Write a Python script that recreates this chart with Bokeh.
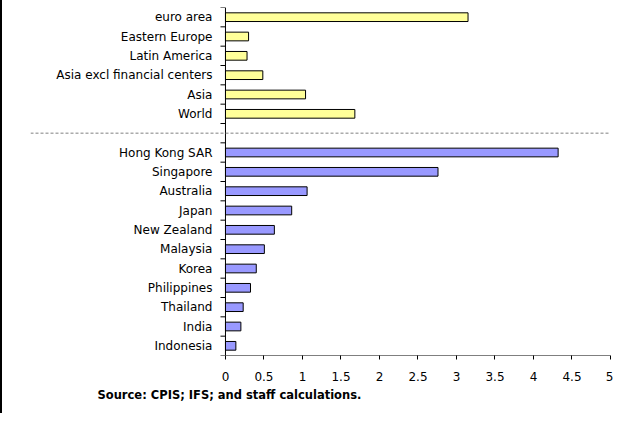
import math
from bokeh.plotting import figure
from bokeh.models import FixedTicker, Span, Title, ColumnDataSource
from bokeh.core.properties import value
from bokeh.embed import file_html
from bokeh.resources import INLINE

# Data (top to bottom)
regions = ["euro area", "Eastern Europe", "Latin America", "Asia excl financial centers", "Asia", "World"]
region_vals = [3.15, 0.30, 0.28, 0.485, 1.04, 1.68]
economies = ["Hong Kong SAR", "Singapore", "Australia", "Japan", "New Zealand", "Malaysia",
             "Korea", "Philippines", "Thailand", "India", "Indonesia"]
economy_vals = [4.32, 2.76, 1.06, 0.86, 0.635, 0.505, 0.40, 0.325, 0.23, 0.20, 0.135]
x_ticks = [0, 0.5, 1, 1.5, 2, 2.5, 3, 3.5, 4, 4.5, 5]
source_note = "Source: CPIS; IFS; and staff calculations."

n_econ = len(economies)
n_reg = len(regions)
n_slots = n_econ + 1 + n_reg
econ_pos = [n_econ - 1 - i for i in range(n_econ)]
reg_pos = [n_slots - 1 - i for i in range(n_reg)]
sep_pos = n_econ

X_MIN, X_MAX = 0, 5
Y_LO, Y_HI = -0.5, n_slots - 0.5
FONT = "DejaVu Sans"

p = figure(width=613, height=413, output_backend="svg", toolbar_location=None,
           x_range=(-2.532, X_MAX), y_range=(Y_LO, Y_HI),
           min_border_left=28, min_border_right=5, min_border_top=7, min_border_bottom=58,
           styles={"border-left": "2px solid #000000"})
p.outline_line_color = None
p.xgrid.visible = False
p.ygrid.visible = False
p.yaxis.visible = False
p.background_fill_color = "white"
p.border_fill_color = "white"

src_r = ColumnDataSource(dict(y=reg_pos, v=region_vals, lab=regions))
src_e = ColumnDataSource(dict(y=econ_pos, v=economy_vals, lab=economies))
p.hbar(y="y", left=0, right="v", height=0.45, source=src_r,
       fill_color="#FFFF99", line_color="#000000", line_width=1)
p.hbar(y="y", left=0, right="v", height=0.45, source=src_e,
       fill_color="#9999FF", line_color="#000000", line_width=1)

# category labels
for s in (src_r, src_e):
    p.text(x=0, y="y", text="lab", source=s, x_offset=-13, text_align="right",
           text_baseline="middle", text_font=value(FONT), text_font_size="12px",
           text_color="#000000")

# hand-made y axis (line + ticks at category boundaries)
bounds = [i - 0.5 for i in range(n_slots + 1)]
p.segment(x0=[X_MIN], y0=[Y_LO], x1=[X_MIN], y1=[Y_HI], line_color="#000000", line_width=1)
p.ray(x=X_MIN, y=bounds, length=5, length_units="screen", angle=math.pi,
      line_color="#000000", line_width=1)
# x axis line
p.segment(x0=[X_MIN], y0=[Y_LO], x1=[X_MAX], y1=[Y_LO], line_color="#000000", line_width=1)

# separator
p.add_layout(Span(location=sep_pos, dimension="width", line_color="#808080",
                  line_dash="3 2", line_width=1))

# x axis (ticks + labels)
p.xaxis.ticker = FixedTicker(ticks=x_ticks)
p.xaxis.major_label_overrides = {t: ("%g" % t) for t in x_ticks}
p.xaxis.axis_line_color = None
p.xaxis.major_tick_out = 4
p.xaxis.major_tick_in = 0
p.xaxis.minor_tick_line_color = None
p.xaxis.major_label_standoff = 12
p.xaxis.major_label_text_font = FONT
p.xaxis.major_label_text_font_size = "12px"
p.xaxis.major_label_text_color = "#000000"
p.xaxis.major_tick_line_color = "#000000"

p.add_layout(Title(text=source_note, align="left", offset=67, standoff=4,
                   text_font=FONT, text_font_size="11.5px", text_font_style="bold",
                   text_color="#000000"), "below")

open("out.html", "w").write(file_html(p, INLINE))
